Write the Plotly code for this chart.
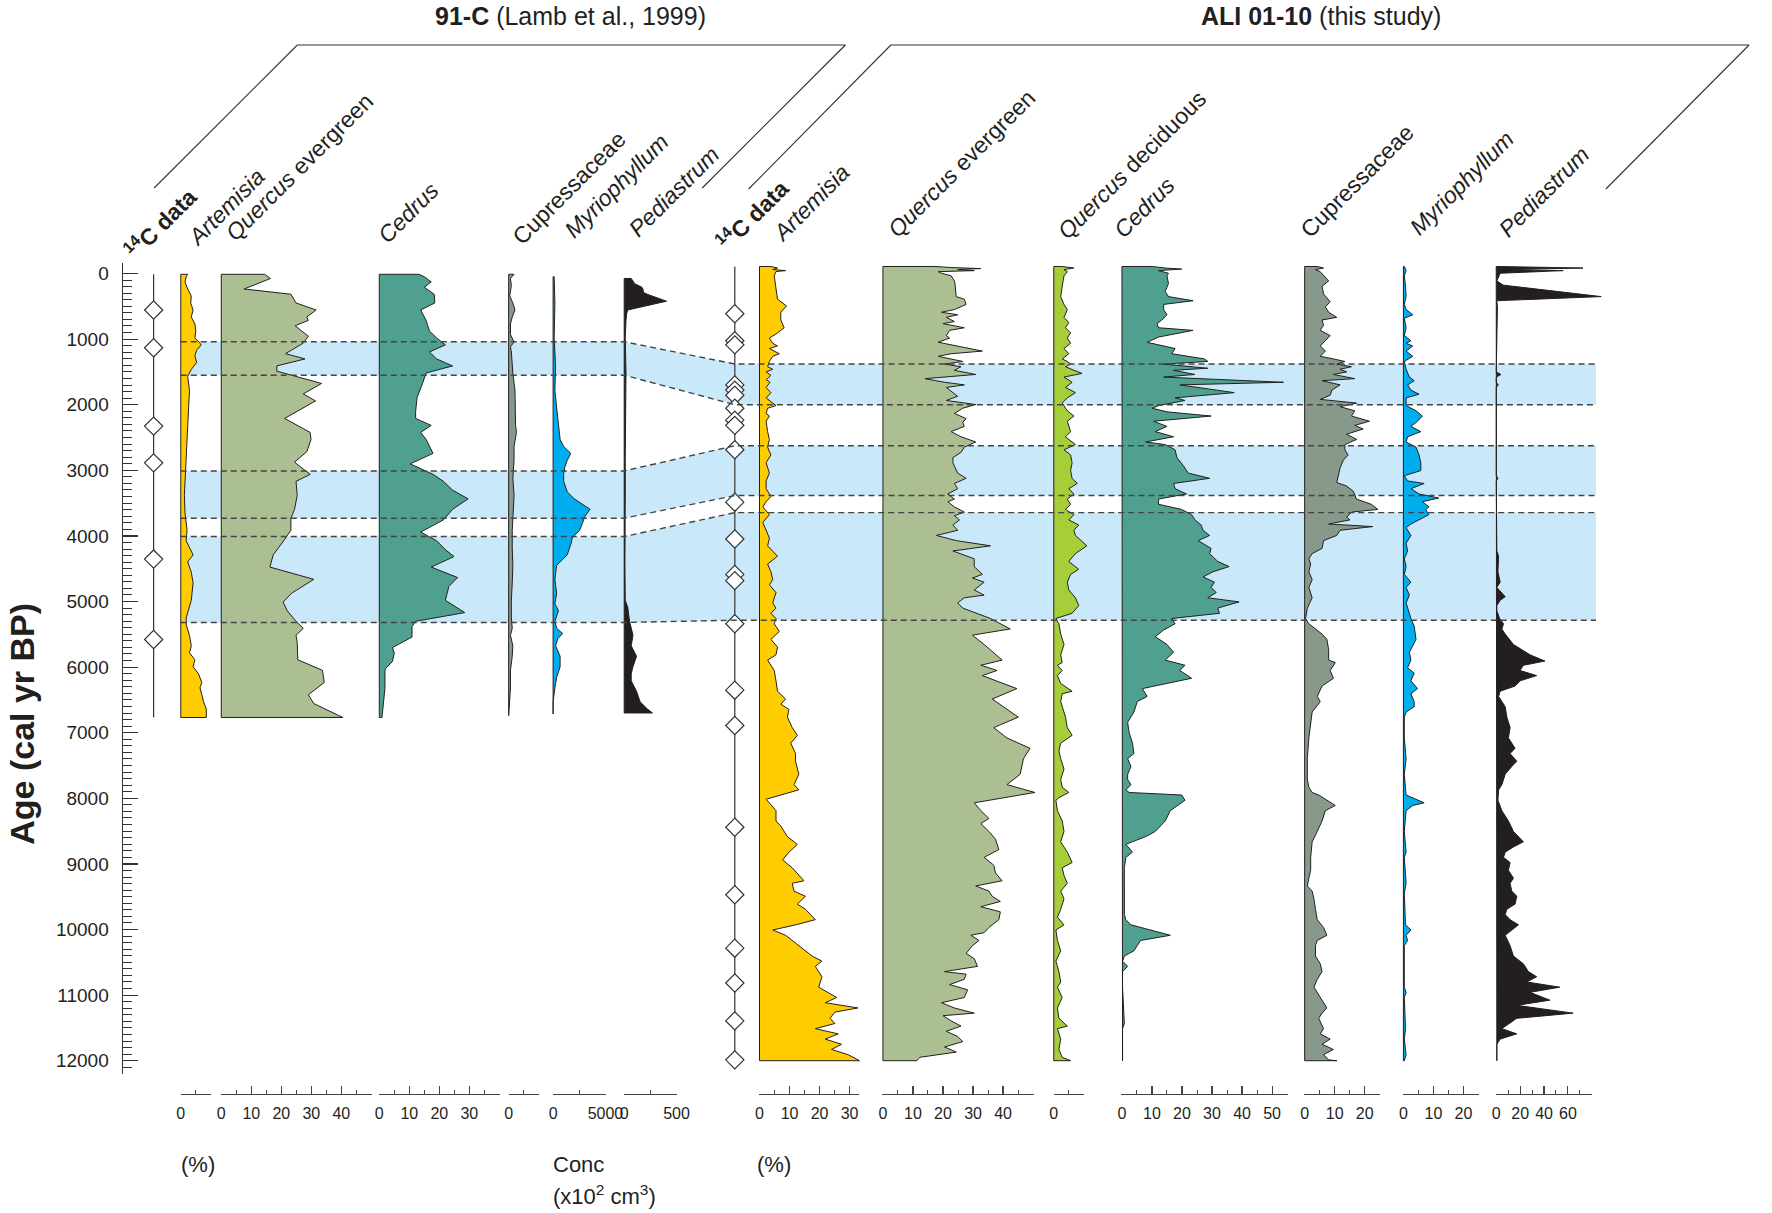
import plotly.graph_objects as go

W, H = 1772, 1213

# ---------------- DATA ----------------
# Core 91-C (Lamb et al., 1999)
c91_c14 = [556, 1132, 2326, 2886, 4353, 5579]
c91_c14_span = [12, 6768]

c91_art_age = [12,49,129,236,342,449,556,662,769,876,982,1062,1089,1169,1249,1356,1462,1569,1782,2049,2316,2582,2849,3115,3382,3649,3915,4075,4182,4289,4395,4555,4715,4982,5249,5355,5515,5675,5782,5888,5995,6102,6235,6315,6422,6529,6635,6768]
c91_art_val = [2.3,1.8,1.4,2.3,3.5,3.3,4.1,3.5,4.7,5.0,4.7,6.4,6.8,5.3,4.7,5.3,3.5,2.3,2.9,2.6,2.3,2.1,1.8,1.4,1.2,1.4,2.1,1.8,2.9,4.1,2.3,3.5,4.1,3.5,1.8,1.8,2.9,3.5,2.9,4.7,4.1,5.9,7.0,6.4,7.0,7.6,8.5,8.5]

c91_qe_age = [12,76,236,316,449,556,662,716,796,956,1062,1222,1302,1409,1489,1676,1836,1942,2209,2422,2529,2716,2876,3062,3169,3382,3595,3729,3915,4075,4289,4475,4662,4875,5009,5142,5302,5409,5515,5622,5888,6049,6235,6422,6555,6768]
c91_qe_val = [14.4,16.4,7.6,23.2,24.9,31.6,28.5,29.0,24.6,29.0,27.3,21.4,27.9,18.5,18.5,33.4,27.3,31.4,21.1,29.6,29.9,28.5,24.4,29.6,24.9,25.3,24.4,23.2,23.2,20.8,17.3,16.2,30.8,23.4,20.6,22.0,24.9,27.3,24.9,25.3,25.5,33.7,34.3,29.0,30.8,40.5]

c91_ced_age = [12,49,129,209,316,449,556,716,876,982,1089,1196,1302,1409,1516,1676,1889,2102,2209,2316,2422,2529,2742,2902,3062,3169,3302,3435,3595,3755,3942,4075,4209,4315,4475,4635,4769,4982,5169,5302,5382,5542,5702,5782,5915,6022,6049,6315,6582,6768]
c91_ced_val = [13.2,15.0,17.3,15.0,18.3,18.5,13.8,15.6,16.7,19.1,22.0,16.7,19.1,24.4,15.6,14.4,12.6,12.1,12.1,17.3,13.8,15.6,17.9,10.3,17.9,21.4,24.4,29.6,24.4,21.4,13.8,19.1,22.0,24.9,17.3,26.1,23.2,22.0,28.5,12.1,10.9,10.9,4.4,5.0,4.4,2.1,1.9,1.9,1.3,0.9]

c91_cup_age = [12,76,182,342,449,556,662,769,929,1046,1116,1196,1516,1782,2049,2316,2422,2636,2849,3115,3382,3649,3915,4182,4449,4715,4982,5249,5409,5515,5675,5835,6049,6315,6582,6742]
c91_cup_val = [1.8,0.6,0.9,0.35,1.4,2.1,1.2,0.6,0.6,1.8,0.6,0.9,1.4,2.1,2.1,2.3,2.6,1.8,1.8,1.4,1.8,1.4,1.2,1.2,1.4,1.2,0.9,0.9,1.2,0.6,1.4,1.2,0.6,0.6,0.2,0.2]

c91_myr_age = [49,449,982,1409,1569,1782,2049,2316,2529,2636,2742,2849,2956,3062,3169,3329,3435,3595,3702,3809,3915,4022,4129,4289,4449,4662,4875,5035,5142,5302,5409,5489,5569,5675,5835,5995,6155,6315,6529,6715]
c91_myr_val = [100,170,100,240,240,170,340,510,670,1010,1690,1350,1110,1010,1010,1350,2020,3540,3030,2800,2530,1850,1690,1350,340,170,340,170,510,170,340,910,440,240,670,670,340,170,0,0]

c91_ped_age = [76,156,209,236,289,316,422,556,609,716,982,1516,2316,2849,3382,3915,4449,4982,5089,5302,5409,5515,5675,5835,5995,6102,6209,6369,6529,6635,6699]
c91_ped_val = [67,101,169,179,185,219,404,34,24,17,10,17,10,10,10,7,7,10,34,51,67,84,67,118,84,67,67,118,152,219,270]

# Core ALI 01-10 (this study)
ali_c14 = [613,1025,1088,1698,1777,1856,2054,2236,2315,2687,3486,4048,4587,4682,5339,6352,6890,8441,9470,10285,10816,11393,11987]
ali_c14_span = [-107, 12120]

ali_art_age = [-107,-83,-60,-44,-30,35,194,392,495,590,708,827,906,985,1064,1104,1144,1223,1262,1340,1420,1460,1500,1555,1618,1658,1737,1817,1896,2014,2054,2133,2173,2252,2410,2529,2647,2766,2885,3043,3162,3281,3400,3479,3558,3676,3795,3914,4033,4151,4310,4429,4547,4666,4745,4864,5022,5101,5180,5259,5339,5457,5576,5695,5813,5893,6051,6210,6368,6487,6566,6645,6763,6922,7040,7159,7317,7436,7634,7792,7871,8014,8069,8188,8346,8425,8584,8703,8821,8940,9059,9257,9296,9415,9494,9613,9692,9850,9929,10008,10088,10246,10404,10483,10562,10721,10879,11037,11116,11196,11259,11354,11433,11512,11591,11671,11750,11829,11908,11987,12000]
ali_art_val = [3.8,6.0,4.4,8.7,5.5,4.9,5.5,6.0,9.0,7.1,7.1,8.2,6.0,3.3,4.4,6.0,3.3,6.6,4.4,3.3,2.7,4.4,2.2,3.8,2.2,3.5,2.2,3.8,2.2,5.5,2.7,2.2,3.3,2.2,2.7,3.3,2.7,3.8,2.2,3.3,2.2,2.2,3.8,2.2,1.1,3.3,1.1,2.2,3.3,2.7,6.0,2.7,3.8,4.4,3.3,5.5,4.4,5.5,3.8,5.5,4.9,6.6,3.8,6.0,5.5,2.7,4.9,5.5,6.0,8.7,7.1,9.8,9.3,10.9,12.6,10.4,12.0,12.0,13.1,11.5,13.1,2.2,3.3,5.5,5.5,7.1,9.3,12.6,9.8,7.7,10.9,14.8,10.9,11.5,15.3,12.6,15.3,18.6,12.0,4.4,8.7,13.1,17.5,20.8,18.6,20.8,19.7,25.7,21.9,32.8,25.1,23.5,25.1,18.6,26.2,21.9,27.3,24.0,29.5,32.8,33.3]

ali_qe_age = [-107,-91,-75,-60,-44,-28,-4,35,115,154,352,392,471,550,590,629,669,732,764,827,867,946,985,1048,1104,1183,1223,1262,1341,1381,1421,1476,1539,1603,1658,1698,1737,1817,1872,1935,1998,2054,2133,2212,2268,2331,2410,2489,2568,2647,2727,2806,2885,3043,3122,3201,3281,3360,3439,3479,3558,3637,3692,3756,3835,3914,3993,4072,4151,4230,4349,4468,4587,4642,4705,4824,4903,4943,5022,5101,5259,5418,5513,5655,5893,5972,6051,6130,6328,6487,6763,6922,7080,7238,7396,7634,7792,7911,8069,8188,8307,8386,8505,8624,8782,8900,9019,9138,9257,9336,9415,9494,9573,9652,9731,9850,9969,10048,10088,10167,10246,10365,10444,10562,10642,10681,10760,10840,10919,11037,11116,11196,11275,11314,11393,11472,11552,11631,11710,11790,11869,11948,12000]
ali_qe_val = [17.3,22.7,32.6,24.9,30.4,18.4,19.5,22.7,23.8,24.0,24.4,27.1,27.7,23.8,19.5,24.9,21.1,23.8,20.0,27.1,22.2,21.1,22.2,18.4,24.9,33.1,22.7,18.4,26.6,20.5,26.0,23.8,30.9,14.0,20.5,27.1,21.1,23.3,24.9,21.1,30.9,26.6,23.8,27.7,26.6,27.1,22.7,26.0,30.9,27.1,26.0,23.3,23.3,24.9,27.7,23.8,24.9,21.6,23.8,21.6,23.8,27.1,23.8,25.5,23.3,24.9,17.8,24.4,35.8,23.3,30.4,30.4,33.1,29.8,33.7,30.4,33.7,27.1,24.9,26.6,35.8,42.4,29.8,33.7,39.7,32.6,38.0,33.1,44.6,36.4,45.1,36.9,41.3,49.0,46.8,45.7,41.3,50.6,30.4,32.6,35.3,32.6,35.3,37.5,38.6,33.7,36.9,37.5,39.7,30.9,35.3,36.4,39.1,32.6,39.1,38.6,35.3,33.7,29.3,32.0,29.8,27.7,30.4,31.5,20.5,27.7,27.1,22.2,28.2,27.1,19.5,23.8,30.4,20.0,22.7,26.0,21.1,24.9,26.6,20.5,24.4,12.3,11.3]

ali_qd_age = [-107,-83,-60,-28,35,194,352,471,550,669,748,827,906,985,1064,1144,1223,1302,1341,1381,1421,1476,1523,1579,1658,1737,1816,1896,1975,2093,2173,2252,2331,2410,2489,2608,2687,2766,2885,3004,3122,3201,3281,3360,3439,3518,3597,3676,3756,3835,3914,3993,4151,4270,4389,4508,4587,4705,4824,4943,5062,5180,5259,5339,5497,5655,5813,5932,5972,6051,6130,6249,6368,6407,6526,6763,6922,7040,7159,7278,7396,7555,7713,7832,7911,7990,8030,8188,8346,8505,8663,8821,8979,9059,9177,9296,9415,9533,9692,9811,9929,10008,10167,10325,10483,10642,10800,10879,11037,11196,11354,11473,11512,11671,11829,11948,12000]
ali_qd_val = [2.8,6.7,3.4,4.5,3.4,2.8,2.3,3.4,4.5,3.4,5.0,3.9,5.6,4.5,5.6,3.4,5.0,2.8,4.5,5.6,3.9,6.7,9.4,3.4,6.1,3.9,7.2,4.5,2.8,4.5,6.7,4.5,5.0,5.6,3.9,7.2,3.4,5.6,6.1,5.6,6.1,7.8,5.0,6.7,4.5,5.6,3.9,6.7,5.0,8.3,6.7,7.2,11.0,7.2,5.0,8.3,5.6,4.5,5.0,7.2,8.3,6.1,0.7,1.7,2.3,3.4,2.3,2.8,1.2,2.8,1.2,2.3,6.1,2.8,2.3,3.9,4.5,6.1,2.3,1.7,2.3,3.4,2.3,2.8,5.0,1.7,0.7,1.2,2.8,3.4,2.3,4.5,6.1,2.8,3.4,4.5,2.3,3.4,2.3,1.2,3.4,0.7,1.2,2.3,0.7,1.7,2.3,1.2,2.8,1.2,1.7,4.5,1.2,2.3,1.7,2.8,5.6]

ali_ced_age = [-107,-83,-67,-44,-4,35,154,273,352,415,471,550,629,708,764,827,867,969,1049,1144,1223,1302,1341,1381,1444,1476,1539,1579,1658,1698,1737,1816,1896,1935,2014,2054,2109,2173,2252,2331,2410,2489,2568,2608,2687,2806,2925,3043,3122,3201,3281,3360,3439,3518,3597,3676,3756,3835,3914,3993,4072,4191,4270,4389,4468,4547,4626,4705,4785,4864,4943,5006,5101,5180,5259,5339,5434,5536,5655,5774,5893,5972,6051,6170,6328,6447,6526,6684,6842,7001,7159,7317,7396,7515,7634,7713,7792,7871,7911,7950,8030,8188,8346,8505,8584,8702,8821,8900,9059,9296,9533,9771,9850,9929,10088,10167,10246,10325,10404,10483,10562,10642,10879,11433,11512,12000]
ali_ced_val = [10.1,14.4,19.9,12.2,15.5,15.0,15.5,14.4,15.5,23.7,13.9,13.9,15.0,13.3,11.7,12.2,23.7,12.2,8.4,17.7,16.6,27.5,28.6,13.9,28.6,17.2,24.3,13.9,53.8,19.3,25.4,37.4,17.7,21.0,12.2,10.1,15.0,29.7,10.6,15.0,11.1,17.2,7.9,14.4,17.7,18.3,20.4,22.1,29.2,17.2,17.7,21.5,12.2,12.2,19.9,23.2,24.3,26.4,27.0,29.2,25.4,29.7,29.2,31.9,35.7,30.3,27.0,30.8,29.7,31.4,28.6,39.0,31.9,32.5,16.6,17.7,13.9,11.1,15.0,17.2,14.4,21.0,19.3,23.2,6.8,8.4,5.1,4.0,1.9,2.4,3.5,4.0,1.9,3.0,1.9,1.9,3.0,1.3,2.4,19.9,21.0,16.1,14.4,11.1,7.9,1.3,3.5,1.3,0.8,0.8,0.8,0.8,1.3,3.0,16.1,6.2,5.1,4.0,0.8,0.2,1.9,0.2,0.2,0.8,0.2,0.2]

ali_cup_age = [-107,-83,-60,-28,35,115,194,312,431,510,590,669,708,787,867,946,1025,1104,1183,1262,1302,1341,1381,1421,1460,1500,1539,1603,1634,1698,1777,1856,1919,1975,2030,2093,2173,2252,2315,2370,2450,2529,2608,2687,2766,2845,2964,3083,3186,3241,3320,3439,3518,3597,3637,3716,3756,3819,3858,3914,3993,4072,4191,4270,4349,4428,4547,4666,4785,4943,5101,5259,5339,5497,5576,5734,5893,5932,6051,6170,6289,6447,6526,6684,6842,7080,7396,7713,7832,7911,7950,8030,8109,8188,8346,8505,8663,8900,9098,9217,9336,9415,9533,9692,9850,9969,10088,10167,10246,10404,10523,10642,10760,10879,11037,11196,11275,11354,11512,11591,11671,11750,11829,11908,11987,12000]
ali_cup_val = [4.2,6.3,3.6,5.2,6.3,8.0,5.8,6.3,8.5,6.9,8.0,10.7,5.8,6.3,5.2,8.5,6.9,5.2,6.9,5.2,9.6,13.4,10.7,15.6,11.8,14.0,9.6,16.7,5.8,11.8,9.1,8.5,5.2,17.3,11.8,16.7,15.6,21.6,16.7,19.5,14.0,17.3,13.4,13.4,14.5,12.9,11.8,11.3,10.7,14.0,16.2,17.3,22.2,24.4,15.6,14.0,15.1,8.0,22.7,11.8,10.7,6.3,5.8,2.5,1.4,2.0,1.4,2.5,1.4,2.5,0.9,0.3,1.4,5.8,7.4,8.0,8.0,10.2,8.5,9.6,5.8,4.2,5.2,2.5,2.0,1.4,0.9,0.9,1.4,2.5,4.7,7.4,10.2,6.9,5.8,4.2,2.5,2.0,2.0,1.4,0.9,2.5,3.1,3.6,4.2,6.3,7.4,4.2,3.6,3.6,5.2,5.8,4.2,3.1,5.2,7.4,5.8,4.7,6.3,5.2,8.5,5.8,9.6,6.3,8.0,10.7]

ali_myr_age = [-107,-44,35,194,352,471,550,629,684,827,946,1025,1064,1104,1183,1262,1341,1460,1579,1634,1698,1777,1840,1896,2014,2093,2173,2252,2331,2410,2489,2568,2647,2766,2885,3004,3083,3162,3201,3281,3360,3423,3479,3558,3597,3676,3756,3819,3874,3993,4112,4230,4349,4468,4587,4705,4785,4903,5022,5180,5259,5378,5576,5774,5893,6011,6091,6209,6328,6407,6526,6605,6684,6763,7080,7396,7634,7950,8069,8109,8188,8505,8821,8900,9296,9454,9929,10008,10088,10167,10246,10879,10958,11037,11512,11671,11908,12000]
ali_myr_val = [0.3,0.9,0.3,0.7,0.9,0.3,0.9,3.1,0.3,0.9,0.3,2.5,0.9,3.1,0.9,3.1,0.3,0.9,2.0,3.6,1.4,2.5,5.2,0.9,0.9,4.2,6.3,4.7,2.5,5.8,1.4,0.9,4.2,5.2,5.8,5.8,0.3,1.4,6.9,2.5,5.2,11.8,6.3,8.5,7.4,8.5,5.2,2.5,0.9,2.5,0.9,1.4,0.3,0.9,0.3,2.5,0.9,2.0,0.9,2.0,2.5,3.6,4.2,2.0,2.5,1.4,3.6,2.5,4.7,2.5,3.6,3.6,0.9,0.3,0.3,0.9,0.3,0.9,6.9,3.1,0.9,0.3,0.9,0.3,0.9,0.3,0.7,2.5,0.9,1.4,0.3,0.3,0.9,0.3,0.7,0.3,0.9,0.3]

ali_ped_age = [-107,-83,-60,-44,-4,115,178,352,415,510,1500,1539,1579,1658,1698,1737,3083,3122,3162,4230,4310,4547,4705,4785,4864,4927,4982,5062,5141,5259,5339,5418,5497,5655,5813,5908,5972,6051,6130,6210,6289,6368,6447,6605,6763,6922,7080,7238,7317,7436,7515,7634,7792,7871,8030,8188,8346,8505,8663,8742,8821,8900,8979,9098,9217,9296,9415,9494,9613,9692,9771,9850,9929,10008,10088,10246,10404,10523,10642,10721,10800,10879,10958,11077,11156,11275,11354,11512,11591,11671,11750,11908,12000]
ali_ped_val = [0.5,72.6,6.1,56.0,3.3,0.5,6.1,87.8,0.5,1.0,0,3.9,0,0,1.7,0,0,1.4,0,0.5,2.0,1.4,3.3,0.5,4.7,7.5,3.3,0.5,0.5,2.8,6.1,4.7,7.5,14.4,28.3,40.7,22.7,19.9,33.8,19.9,15.8,3.3,2.0,7.5,8.9,11.6,10.2,15.8,11.6,17.2,13.0,7.5,4.7,2.0,1.4,4.7,10.2,14.4,22.7,14.4,7.5,6.1,11.6,10.2,14.4,11.6,13.0,17.2,15.8,8.9,7.5,11.6,18.6,13.0,7.5,11.6,14.4,22.7,26.9,33.8,25.5,53.2,28.3,44.9,17.2,64.3,17.2,4.7,17.2,3.3,0.5,0.5,0.5]

# Highlighted intervals (cal yr BP)
c91_bands = [(1040, 1550), (3010, 3730), (4010, 5320)]
ali_bands = [(1380, 2000), (2625, 3385), (3645, 5285)]

# Age axis ticks
age_ticks = list(range(0, 12001, 1000))
age_tick_text = [str(v) for v in age_ticks]

# ---------------- LAYOUT CONSTANTS ----------------
Y0 = 273.5          # pixel row of age 0
KPX = 0.0656        # pixels per year
AGE_TOP, AGE_BOT = -160, 12210
SCALE_Y = 1094      # pixel row of the scale bars
PCT = 3.04          # px per percent

LINE = '#231f20'
COLORS = dict(art='#ffcc00', qe='#abbf92', qd='#a6ce39', ced='#4fa08f',
              cup='#87998b', myr='#00aeef', ped='#231f20')
BAND = 'rgb(201,233,250)'

def py(age):
    return Y0 + age * KPX

fig = go.Figure()
layout = dict(width=W, height=H, margin=dict(l=0, r=0, t=0, b=0, pad=0),
              paper_bgcolor='white', plot_bgcolor='rgba(0,0,0,0)',
              showlegend=False, font=dict(family='Liberation Sans, Arial', color='#231f20'))

layout['yaxis'] = dict(
    domain=[1 - py(AGE_BOT) / H, 1 - py(AGE_TOP) / H], range=[AGE_BOT, AGE_TOP],
    anchor='free', position=119 / W, showline=True, linecolor='#333', linewidth=1.3,
    showgrid=False, zeroline=False, ticks='inside', ticklen=15, tickwidth=1.2, tickcolor='#333',
    tickmode='array', tickvals=age_ticks, ticktext=age_tick_text,
    tickfont=dict(size=19), ticklabelstandoff=9,
    minor=dict(tickmode='array', tickvals=[v for v in range(100, 12200, 100) if v % 1000],
               ticks='inside', ticklen=9, tickwidth=1, tickcolor='#333', showgrid=False))

panels = [
    # key, base_px, ppu, bar, major ticks, labels, minor ticks, ages, values, color
    ('art91', 179, PCT, 10, [0, 10], ['0', ''], [5], c91_art_age, c91_art_val, COLORS['art']),
    ('qe91', 220, PCT, 50, [0, 10, 20, 30, 40, 50], ['0', '10', '20', '30', '40', ''], [5, 15, 25, 35, 45], c91_qe_age, c91_qe_val, COLORS['qe']),
    ('ced91', 380, PCT, 40, [0, 10, 20, 30, 40], ['0', '10', '20', '30', ''], [5, 15, 25, 35], c91_ced_age, c91_ced_val, COLORS['ced']),
    ('cup91', 511, PCT, 10, [0, 10], ['0', ''], [5], c91_cup_age, c91_cup_val, COLORS['cup']),
    ('myr91', 556, 53 / 5000, 5000, [0, 5000], ['0', '5000'], [2500], c91_myr_age, c91_myr_val, COLORS['myr']),
    ('ped91', 628, 53 / 500, 500, [0, 500], ['0', '500'], [250], c91_ped_age, c91_ped_val, COLORS['ped']),
    ('artA', 765, PCT, 33, [0, 10, 20, 30], ['0', '10', '20', '30'], [5, 15, 25], ali_art_age, ali_art_val, COLORS['art']),
    ('qeA', 890, PCT, 50, [0, 10, 20, 30, 40, 50], ['0', '10', '20', '30', '40', ''], [5, 15, 25, 35, 45], ali_qe_age, ali_qe_val, COLORS['qe']),
    ('qdA', 1063, PCT, 10, [0, 10], ['0', ''], [5], ali_qd_age, ali_qd_val, COLORS['qd']),
    ('cedA', 1132, PCT, 55, [0, 10, 20, 30, 40, 50], ['0', '10', '20', '30', '40', '50'], [5, 15, 25, 35, 45, 55], ali_ced_age, ali_ced_val, COLORS['ced']),
    ('cupA', 1317, PCT, 25, [0, 10, 20], ['0', '10', '20'], [5, 15, 25], ali_cup_age, ali_cup_val, COLORS['cup']),
    ('myrA', 1417, PCT, 25, [0, 10, 20], ['0', '10', '20'], [5, 15, 25], ali_myr_age, ali_myr_val, COLORS['myr']),
    ('pedA', 1511, 1.21, 80, [0, 20, 40, 60, 80], ['0', '20', '40', '60', ''], [10, 30, 50, 70], ali_ped_age, ali_ped_val, COLORS['ped']),
]

ax_n = 1
def new_axis():
    global ax_n
    ax_n += 1
    return ax_n

axis_font = dict(size=16)
for key, base, ppu, bar, tv, tt, mv, ages, vals, col in panels:
    # data axis (invisible, generous range so nothing is clipped)
    n = new_axis()
    lo, hi = -4 / ppu, max(bar, max(vals)) * 1.15
    layout[f'xaxis{n}'] = dict(domain=[(base + lo * ppu) / W, (base + hi * ppu) / W], range=[lo, hi],
                               anchor='y', visible=False, fixedrange=True)
    xs = [0] + list(vals) + [0, 0]
    ys = [ages[0]] + list(ages) + [ages[-1], ages[0]]
    fig.add_trace(go.Scatter(x=xs, y=ys, mode='lines', fill='toself', fillcolor=col,
                             line=dict(color=LINE, width=1), xaxis=f'x{n}', yaxis='y',
                             hoverinfo='skip'))
    # scale-bar axis
    m = new_axis()
    eps = bar * 0.004
    layout[f'xaxis{m}'] = dict(domain=[(base - eps * ppu) / W, (base + (bar + eps) * ppu) / W],
                               range=[-eps, bar + eps], anchor='free', position=1 - SCALE_Y / H,
                               showline=True, linecolor='#444', linewidth=1.3, showgrid=False,
                               zeroline=False, ticks='inside', ticklen=8, tickwidth=1.1,
                               tickcolor='#444', tickmode='array', tickvals=tv, ticktext=tt,
                               tickfont=axis_font, ticklabelstandoff=4,
                               minor=dict(tickmode='array', tickvals=mv, ticks='inside', ticklen=4,
                                          tickwidth=1, tickcolor='#444', showgrid=False),
                               fixedrange=True)
    fig.add_trace(go.Scatter(x=[None], y=[None], xaxis=f'x{m}', yaxis='y', hoverinfo='skip'))

# 14C columns
for xpx, span, dates in [(151.5, c91_c14_span, c91_c14), (740, ali_c14_span, ali_c14)]:
    n = new_axis()
    layout[f'xaxis{n}'] = dict(domain=[(xpx - 20) / W, (xpx + 20) / W], range=[-20, 20],
                               anchor='y', visible=False, fixedrange=True)
    fig.add_trace(go.Scatter(x=[0, 0], y=span, mode='lines', line=dict(color='#333', width=1.2),
                             xaxis=f'x{n}', yaxis='y', hoverinfo='skip'))
    fig.add_trace(go.Scatter(x=[0] * len(dates), y=dates, mode='markers',
                             marker=dict(symbol='diamond', size=14, color='white',
                                         line=dict(color='#333', width=1.2)),
                             xaxis=f'x{n}', yaxis='y', hoverinfo='skip'))

# correlation bands and dashed boundaries
X91_L, X91_R, XALI_L, XALI_R = 179, 628, 740, 1612
shapes = []
def px(x):
    return x / W
for (a0, a1), (b0, b1) in zip(c91_bands, ali_bands):
    path = (f'M {px(X91_L)},{a0} L {px(X91_R)},{a0} L {px(XALI_L)},{b0} L {px(XALI_R)},{b0} '
            f'L {px(XALI_R)},{b1} L {px(XALI_L)},{b1} L {px(X91_R)},{a1} L {px(X91_L)},{a1} Z')
    shapes.append(dict(type='path', path=path, xref='paper', yref='y', fillcolor=BAND,
                       line=dict(width=0), layer='below'))
for (a0, a1), (b0, b1) in zip(c91_bands, ali_bands):
    for a, b in [(a0, b0), (a1, b1)]:
        path = (f'M {px(X91_L)},{a} L {px(X91_R)},{a} L {px(XALI_L)},{b} L {px(XALI_R)},{b}')
        shapes.append(dict(type='path', path=path, xref='paper', yref='y',
                           line=dict(color='#444', width=1.4, dash='6px,4px'), layer='above'))

# header brackets
def seg(x0, y0, x1, y1):
    return dict(type='line', xref='paper', yref='paper', x0=x0 / W, y0=1 - y0 / H, x1=x1 / W,
                y1=1 - y1 / H, line=dict(color='#333', width=1.1))
shapes += [seg(297, 45, 852, 45), seg(297, 45, 152, 188), seg(852, 45, 707, 188),
           seg(898, 45, 1767, 45), seg(898, 45, 754, 189), seg(1767, 45, 1622, 189)]
layout['shapes'] = shapes

# annotations
ann = []
def text(x, y, s, size, angle=0, xanchor='center'):
    ann.append(dict(x=x / W, y=1 - y / H, xref='paper', yref='paper', text=s, showarrow=False,
                    textangle=angle, font=dict(size=size), xanchor=xanchor, yanchor='middle'))

text(574, 16, '<b>91-C</b> (Lamb et al., 1999)', 25)
text(1334, 16, '<b>ALI 01-10</b> (this study)', 25)

labels = [
    (158, 223, '<b><sup>14</sup>C data</b>'), (225, 207, '<i>Artemisia</i>'),
    (299, 167, '<i>Quercus</i> evergreen'), (410, 212, '<i>Cedrus</i>'),
    (572, 188, 'Cupressaceae'), (620, 186, '<i>Myriophyllum</i>'), (678, 192, '<i>Pediastrum</i>'),
    (757, 215, '<b><sup>14</sup>C data</b>'), (817, 203, '<i>Artemisia</i>'),
    (970, 163, '<i>Quercus</i> evergreen'), (1142, 165, '<i>Quercus</i> deciduous'),
    (1155, 207, '<i>Cedrus</i>'), (1370, 181, 'Cupressaceae'), (1476, 183, '<i>Myriophyllum</i>'),
    (1559, 192, '<i>Pediastrum</i>'),
]
for x, y, s in labels:
    text(x, y, s, 23, angle=-45)

text(18, 724, '<b>Age (cal yr BP)</b>', 34, angle=-90)
text(177, 1164, '(%)', 22, xanchor='left')
text(554, 1164, 'Conc', 22, xanchor='left')
text(554, 1195, '(x10<sup>2</sup> cm<sup>3</sup>)', 22, xanchor='left')
text(760, 1164, '(%)', 22, xanchor='left')
layout['annotations'] = ann

fig.update_layout(**layout)
fig.write_html('out.html', config={'displayModeBar': False, 'staticPlot': True},
               post_script="document.body.style.margin='0px';document.body.style.overflow='hidden';")
